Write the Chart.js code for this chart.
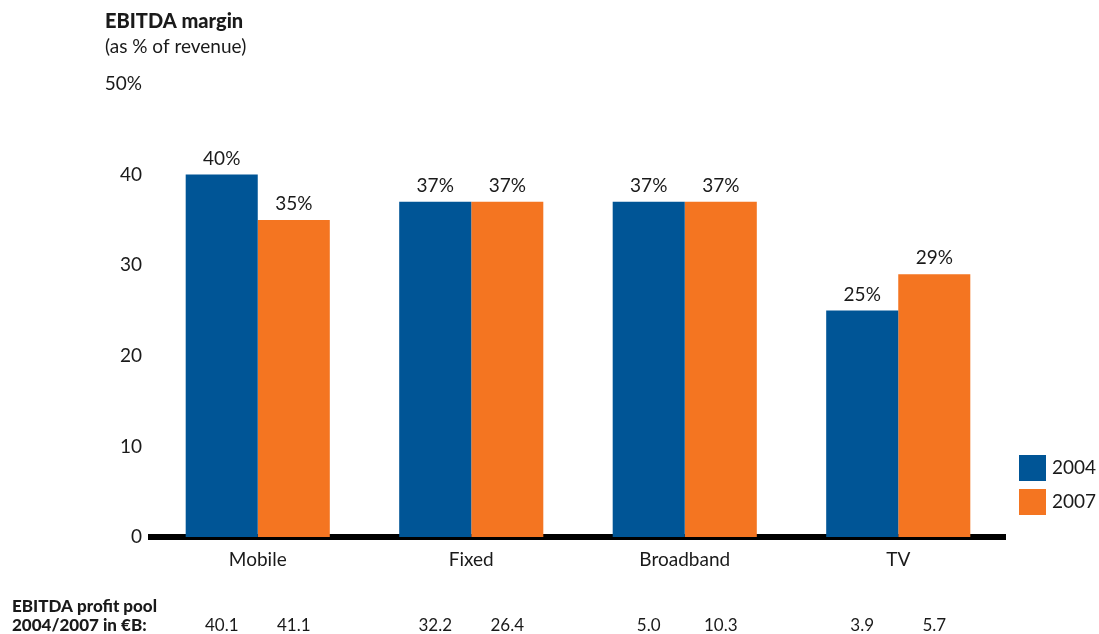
<!DOCTYPE html>
<html>
<head>
<meta charset="utf-8">
<script src="https://cdn.jsdelivr.net/npm/chart.js@4/dist/chart.umd.min.js"></script>
<style>
  html, body { margin: 0; padding: 0; background: #fff; }
  #wrap { width: 1099px; height: 634px; position: relative; }
</style>
</head>
<body>
<div id="wrap"><canvas id="grafico"></canvas></div>
<script>
const categories = ['Mobile', 'Fixed', 'Broadband', 'TV'];
const years = ['2004', '2007'];
const margin2004 = [40, 37, 37, 25];
const margin2007 = [35, 37, 37, 29];
const pool2004 = ['40.1', '32.2', '5.0', '3.9'];
const pool2007 = ['41.1', '26.4', '10.3', '5.7'];

const BLUE = '#005596';
const ORANGE = '#F47521';
const TEXT = '#1a1a1a';
const FONT = 'Lato, "Noto Sans", sans-serif';

document.addEventListener('DOMContentLoaded', () => {
    const ctx = document.getElementById('grafico').getContext('2d');

    // percentage labels over each bar, profit pool row under the chart,
    // heading text and the legend boxes on the right
    const extras = {
        id: 'extras',
        afterDatasetsDraw(chart) {
            const c = chart.ctx;
            const area = chart.chartArea;
            const pools = [pool2004, pool2007];
            c.save();
            c.fillStyle = TEXT;
            c.textAlign = 'center';
            c.textBaseline = 'middle';
            chart.data.datasets.forEach((ds, i) => {
                chart.getDatasetMeta(i).data.forEach((bar, j) => {
                    c.font = '19px ' + FONT;
                    c.fillText(ds.data[j] + '%', bar.x, bar.y - 16);
                    c.font = '17px ' + FONT;
                    c.fillText(pools[i][j], bar.x, 626);
                });
            });

            c.textAlign = 'left';
            c.font = '900 17px ' + FONT;
            c.fillText('EBITDA profit pool', 12, 607);
            c.fillText('2004/2007 in €B:', 12, 626);

            c.font = '900 20px ' + FONT;
            c.fillText('EBITDA margin', 105, 22);
            c.font = '19px ' + FONT;
            c.fillText('(as % of revenue)', 105, 47);

            chart.data.datasets.forEach((ds, i) => {
                const y = 455 + i * 34;
                c.fillStyle = ds.backgroundColor;
                c.fillRect(area.right + 14, y, 27, 26);
                c.fillStyle = TEXT;
                c.font = '19px ' + FONT;
                c.fillText(ds.label, area.right + 47, y + 13);
            });
            c.restore();
        }
    };

    new Chart(ctx, {
        type: 'bar',
        data: {
            labels: categories,
            datasets: [
                { label: years[0], data: margin2004, backgroundColor: BLUE },
                { label: years[1], data: margin2007, backgroundColor: ORANGE }
            ]
        },
        options: {
            responsive: true,
            maintainAspectRatio: false,
            animation: false,
            categoryPercentage: 0.675,
            barPercentage: 1,
            layout: { padding: { top: 84, right: 94, bottom: 0, left: 0 } },
            plugins: {
                legend: { display: false },
                tooltip: { enabled: false }
            },
            scales: {
                x: {
                    z: 1,
                    grid: { display: false, drawTicks: false },
                    border: { display: true, color: '#000', width: 6 },
                    ticks: { color: TEXT, font: { family: FONT, size: 19 }, padding: 11 },
                    afterFit: (scale) => { scale.height = 97; }
                },
                y: {
                    min: 0,
                    max: 50,
                    grid: { display: false, drawTicks: false },
                    border: { display: false },
                    ticks: {
                        stepSize: 10,
                        color: TEXT,
                        font: { family: FONT, size: 19 },
                        padding: 9,
                        callback: (v) => v === 50 ? '50%' : v
                    },
                    afterFit: (scale) => { scale.width = 151; }
                }
            }
        },
        plugins: [extras]
    });
});
</script>
</body>
</html>
